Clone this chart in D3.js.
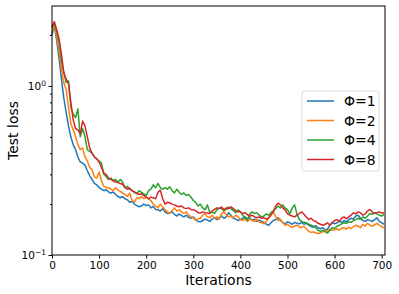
<!DOCTYPE html>
<html>
<head>
<meta charset="utf-8">
<script src="https://cdn.jsdelivr.net/npm/d3@7"></script>
<style>
  body { margin: 0; background: #fff; }
  text { font-family: "DejaVu Sans", sans-serif; fill: #000; }
</style>
</head>
<body>
<svg id="chart"></svg>
<script>
// iterações a cada 5 passos
const iteracoes = d3.range(0, 706, 5);

const serieNomes = ["Φ=1", "Φ=2", "Φ=4", "Φ=8"];
const cores = ["#1f77b4", "#ff7f0e", "#2ca02c", "#d62728"];

const perdaPhi1 = [
  2.0, 2.3, 1.85, 1.45, 1.1, 0.85, 0.7, 0.58, 0.5, 0.45,
  0.42, 0.38, 0.355, 0.35, 0.34, 0.315, 0.295, 0.28, 0.265, 0.26,
  0.25, 0.245, 0.24, 0.243, 0.236, 0.232, 0.236, 0.228, 0.222, 0.218,
  0.222, 0.215, 0.212, 0.205, 0.208, 0.2, 0.196, 0.193, 0.195, 0.2,
  0.196, 0.198, 0.19, 0.194, 0.186, 0.185, 0.182, 0.188, 0.18, 0.176,
  0.177, 0.18, 0.174, 0.17, 0.175, 0.171, 0.168, 0.172, 0.167, 0.165,
  0.168, 0.162, 0.158, 0.157, 0.16, 0.163, 0.161, 0.158, 0.163, 0.166,
  0.162, 0.166, 0.17, 0.165, 0.168, 0.178, 0.172, 0.165, 0.163, 0.16,
  0.162, 0.165, 0.168, 0.163, 0.166, 0.16, 0.163, 0.158, 0.161, 0.158,
  0.156, 0.152, 0.15, 0.155, 0.16, 0.162, 0.166, 0.16, 0.156, 0.153,
  0.157, 0.155, 0.152, 0.156, 0.154, 0.153, 0.156, 0.152, 0.154, 0.15,
  0.147, 0.146, 0.149, 0.145, 0.143, 0.145, 0.141, 0.142, 0.15, 0.156,
  0.153, 0.155, 0.158, 0.156, 0.16, 0.157, 0.162, 0.165, 0.163, 0.17,
  0.172, 0.165, 0.16, 0.158, 0.162, 0.16, 0.158, 0.162, 0.166, 0.158,
  0.155, 0.152
];
const perdaPhi2 = [
  2.1, 2.3, 1.95, 1.6, 1.25, 1.05, 0.95, 0.75, 0.6, 0.55,
  0.5, 0.45, 0.42, 0.43, 0.38, 0.36, 0.33, 0.32, 0.29, 0.285,
  0.31, 0.275, 0.255, 0.25, 0.25, 0.245, 0.24, 0.25, 0.242, 0.238,
  0.232, 0.228, 0.222, 0.232, 0.21, 0.205, 0.218, 0.215, 0.222, 0.215,
  0.22, 0.215, 0.21, 0.2, 0.195, 0.19, 0.2, 0.192, 0.185, 0.18,
  0.177, 0.183, 0.19, 0.182, 0.185, 0.18, 0.176, 0.18, 0.172, 0.168,
  0.166, 0.16, 0.163, 0.165, 0.172, 0.175, 0.168, 0.166, 0.172, 0.165,
  0.168, 0.163, 0.175, 0.18, 0.173, 0.168, 0.17, 0.166, 0.172, 0.168,
  0.162, 0.16, 0.163, 0.158, 0.164, 0.16, 0.158, 0.162, 0.156, 0.155,
  0.153, 0.158, 0.165, 0.175, 0.18, 0.168, 0.16, 0.163, 0.155, 0.15,
  0.152, 0.148, 0.146, 0.148, 0.15, 0.147, 0.145, 0.148, 0.143, 0.138,
  0.136, 0.137, 0.135, 0.134, 0.135, 0.137, 0.14, 0.138, 0.142, 0.14,
  0.141, 0.143, 0.14, 0.144, 0.145, 0.142, 0.146, 0.143, 0.147, 0.15,
  0.148, 0.145, 0.152, 0.148, 0.154, 0.15, 0.148, 0.151, 0.154, 0.15,
  0.147, 0.145
];
const perdaPhi4 = [
  2.2, 2.35, 2.1, 1.8, 1.4, 1.2, 1.05, 1.07, 0.75, 0.68,
  0.65, 0.73, 0.5, 0.56, 0.5, 0.42, 0.41, 0.4, 0.38, 0.37,
  0.36, 0.35, 0.3, 0.29, 0.28, 0.285, 0.275, 0.28, 0.27, 0.28,
  0.27, 0.25, 0.255, 0.245, 0.24, 0.235, 0.23, 0.24, 0.235, 0.23,
  0.225, 0.24, 0.245, 0.26, 0.25, 0.265, 0.25, 0.245, 0.25, 0.245,
  0.253, 0.24, 0.233, 0.245, 0.235, 0.228, 0.233, 0.225, 0.228, 0.22,
  0.21, 0.205, 0.195, 0.2, 0.19, 0.185, 0.198, 0.178, 0.18, 0.176,
  0.185, 0.19, 0.188, 0.183, 0.186, 0.192, 0.188, 0.183, 0.178, 0.185,
  0.18, 0.172, 0.165, 0.161, 0.175, 0.18, 0.176, 0.178, 0.172, 0.168,
  0.17, 0.175, 0.172, 0.178, 0.183, 0.188, 0.195, 0.19, 0.198, 0.19,
  0.185, 0.175, 0.19, 0.198, 0.175, 0.162, 0.158, 0.156, 0.155, 0.152,
  0.15, 0.148, 0.145, 0.14, 0.138, 0.14, 0.137, 0.135, 0.14, 0.145,
  0.144, 0.148, 0.15, 0.153, 0.155, 0.154, 0.157, 0.156, 0.16, 0.162,
  0.165, 0.162, 0.168, 0.165, 0.17, 0.176, 0.174, 0.178, 0.175, 0.172,
  0.17, 0.174
];
const perdaPhi8 = [
  2.25, 2.4, 2.15, 1.9, 1.55, 1.2, 1.1, 1.03, 0.8, 0.63,
  0.56, 0.55, 0.52, 0.62, 0.58, 0.5, 0.43, 0.4, 0.38, 0.37,
  0.355, 0.33, 0.305, 0.3, 0.285, 0.28, 0.275, 0.27, 0.268, 0.265,
  0.262, 0.25, 0.245, 0.248, 0.24, 0.236, 0.232, 0.228, 0.23, 0.225,
  0.22, 0.215, 0.22, 0.218, 0.215, 0.235, 0.242, 0.215, 0.2, 0.205,
  0.203, 0.2, 0.198, 0.195, 0.193, 0.195, 0.19, 0.188, 0.19, 0.186,
  0.185, 0.183, 0.178, 0.177, 0.18, 0.178, 0.177, 0.176, 0.182, 0.186,
  0.19, 0.188, 0.192, 0.185, 0.19, 0.188, 0.193, 0.188, 0.183, 0.18,
  0.18, 0.176, 0.178, 0.173, 0.17, 0.172, 0.168, 0.166, 0.168, 0.165,
  0.166, 0.163, 0.166, 0.172, 0.18, 0.195, 0.203, 0.198, 0.19, 0.185,
  0.175, 0.172, 0.17, 0.168, 0.172, 0.176, 0.18, 0.174, 0.168, 0.162,
  0.165, 0.16, 0.158, 0.154, 0.152, 0.15, 0.152, 0.155, 0.15, 0.155,
  0.16, 0.162, 0.158, 0.165, 0.168, 0.164, 0.168, 0.172, 0.178, 0.175,
  0.18, 0.178, 0.172, 0.175, 0.182, 0.186, 0.18, 0.176, 0.178, 0.18,
  0.177, 0.178
];
const series = [perdaPhi1, perdaPhi2, perdaPhi4, perdaPhi8];

const xTicks = [0, 100, 200, 300, 400, 500, 600, 700];
const yMajor = [0.1, 1];
const yMinor = [0.2, 0.3, 0.4, 0.5, 0.6, 0.7, 0.8, 0.9, 2];

const width = 399, height = 294;
const margem = {left: 52, right: 14, top: 6, bottom: 39};

const svg = d3.select("#chart").attr("width", width).attr("height", height);

const x = d3.scaleLinear().domain([0, 707]).range([margem.left, width - margem.right]);
const y = d3.scaleLog().domain([0.1, 2.97]).range([height - margem.bottom, margem.top]);

// linhas das séries
const linha = d3.line().x((d, i) => x(iteracoes[i])).y(d => y(d));
const plot = svg.append("g");
series.forEach(function(s, k){
  plot.append("path")
    .datum(s)
    .attr("d", linha)
    .attr("fill", "none")
    .attr("stroke", cores[k])
    .attr("stroke-width", 1.5)
    .attr("stroke-linejoin", "round");
});

// moldura
svg.append("rect")
  .attr("x", margem.left).attr("y", margem.top)
  .attr("width", width - margem.right - margem.left)
  .attr("height", height - margem.bottom - margem.top)
  .attr("fill", "none").attr("stroke", "#000").attr("stroke-width", 1);

// eixo x
const eixoX = svg.append("g")
  .attr("transform", "translate(0," + (height - margem.bottom) + ")")
  .call(d3.axisBottom(x).tickValues(xTicks).tickSize(3.5).tickPadding(3));
eixoX.select(".domain").remove();
eixoX.selectAll("text").style("font-size", "10.5px").style("font-family", "DejaVu Sans");

// eixo y: maiores com rótulo, menores sem
const eixoY = svg.append("g")
  .attr("transform", "translate(" + margem.left + ",0)")
  .call(d3.axisLeft(y).tickValues(yMajor).tickSize(3.5).tickFormat(""));
eixoY.select(".domain").remove();
const eixoYmenor = svg.append("g")
  .attr("transform", "translate(" + margem.left + ",0)")
  .call(d3.axisLeft(y).tickValues(yMinor).tickSize(2).tickFormat(""));
eixoYmenor.select(".domain").remove();

yMajor.forEach(function(v){
  const t = svg.append("text")
    .attr("x", margem.left - 6)
    .attr("y", y(v) + 4)
    .attr("text-anchor", "end")
    .style("font-size", "10.5px");
  t.append("tspan").text("10");
  t.append("tspan").attr("dy", -4).style("font-size", "7.5px")
    .text(v < 1 ? "\u22121" : "0");
});

// títulos dos eixos
svg.append("text")
  .attr("x", (margem.left + width - margem.right) / 2)
  .attr("y", 285)
  .attr("text-anchor", "middle")
  .style("font-size", "14px")
  .text("Iterations");
svg.append("text")
  .attr("transform", "translate(18," + ((margem.top + height - margem.bottom) / 2) + ") rotate(-90)")
  .attr("text-anchor", "middle")
  .style("font-size", "14px")
  .text("Test loss");

// legenda
const leg = svg.append("g").attr("transform", "translate(302,91)");
leg.append("rect")
  .attr("width", 77).attr("height", 80).attr("rx", 2.5)
  .attr("fill", "#fff").attr("fill-opacity", 0.8)
  .attr("stroke", "#d9d9d9").attr("stroke-width", 1);
serieNomes.forEach(function(nome, k){
  const yy = 10 + k * 19.5;
  leg.append("line")
    .attr("x1", 5).attr("x2", 32).attr("y1", yy).attr("y2", yy)
    .attr("stroke", cores[k]).attr("stroke-width", 1.5);
  leg.append("text")
    .attr("x", 42).attr("y", yy + 5)
    .style("font-size", "14px")
    .text(nome);
});
</script>
</body>
</html>
